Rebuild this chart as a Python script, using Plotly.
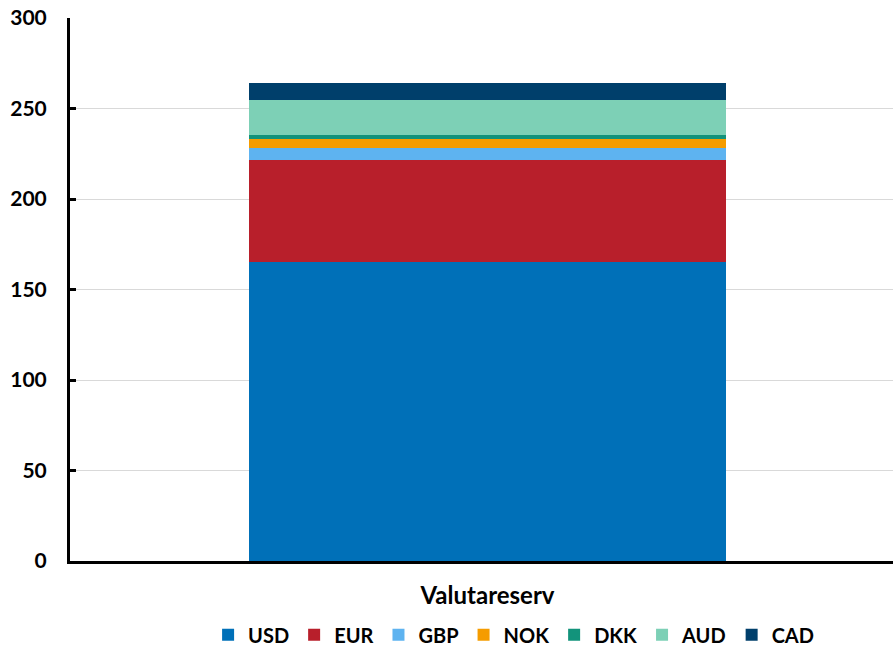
import plotly.graph_objects as go

categories = ["Valutareserv"]
currencies = ["USD", "EUR", "GBP", "NOK", "DKK", "AUD", "CAD"]
values = [165.4, 56.1, 6.8, 4.7, 2.2, 19.3, 9.4]
colors = ["#0070B8", "#B81F2B", "#5EB3F0", "#F59C00", "#12937B", "#7DD0B6", "#003F6B"]
y_ticks = [0, 50, 100, 150, 200, 250, 300]

font_family = "Lato"

fig = go.Figure()
for cur, val, col in zip(currencies, values, colors):
    fig.add_trace(go.Bar(x=categories, y=[val], name=cur, marker=dict(color=col, line=dict(width=0))))

fig.update_layout(
    barmode="stack",
    bargap=0.42,
    width=893, height=646,
    margin=dict(l=70, r=0, t=18, b=85, autoexpand=False),
    paper_bgcolor="white", plot_bgcolor="white",
    font=dict(family=font_family, size=20, color="black"),
    showlegend=True,
    legend=dict(orientation="h", x=0.539, xanchor="center", y=-0.136, yanchor="middle",
                traceorder="normal", font=dict(family=font_family, size=20, color="black", weight="bold"),
                itemwidth=30, tracegroupgap=0),
)
fig.update_yaxes(
    range=[0, 300], tickvals=y_ticks, showgrid=True, gridcolor="#D9D9D9", gridwidth=1,
    showline=True, linecolor="black", linewidth=3, ticks="inside", ticklen=6, tickwidth=3, tickcolor="black",
    tickfont=dict(family=font_family, size=21, color="black", weight="bold"), ticklabelstandoff=16,
    zeroline=False, automargin=False,
)
fig.update_xaxes(
    range=[-0.5073, 0.4927],
    showline=True, linecolor="black", linewidth=3, ticks="",
    tickfont=dict(family=font_family, size=24, color="black", weight="bold"), ticklabelstandoff=11,
    automargin=False,
)

fig.write_html("out.html", config={"displayModeBar": False},
               post_script="document.body.style.margin='0';document.body.style.overflow='hidden';")
